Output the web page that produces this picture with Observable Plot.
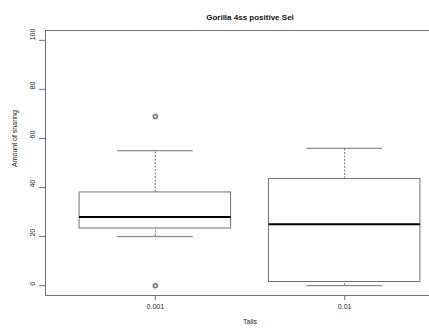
<!DOCTYPE html>
<html>
<head>
<meta charset="utf-8">
<script src="https://cdn.jsdelivr.net/npm/d3@7"></script>
<script src="https://cdn.jsdelivr.net/npm/@observablehq/plot@0.6"></script>
<style>
  html, body { margin: 0; padding: 0; background: #fff; }
  #chart { width: 429px; height: 335px; overflow: hidden; }
  svg { font-family: "Liberation Sans", Arial, Helvetica, sans-serif; }
</style>
</head>
<body>
<div id="chart"></div>
<script>
const title = "Gorilla 4ss positive Sel";
const xLabel = "Tails";
const yLabel = "Amount of sharing";
const categories = ["0.001", "0.01"];
const lowerWhisker = [20, 0];
const q1 = [23.3, 1.5];
const median = [28, 25];
const q3 = [38, 43.5];
const upperWhisker = [55, 56];
const outlierCategory = ["0.001", "0.001"];
const outlierValue = [69, 0];
const yTicks = [0, 20, 40, 60, 80, 100];

const boxes = categories.map((c, i) => ({
  cat: c, pos: i + 1,
  lo: lowerWhisker[i], q1: q1[i], med: median[i], q3: q3[i], hi: upperWhisker[i]
}));
const outliers = outlierValue.map((v, i) => ({
  pos: categories.indexOf(outlierCategory[i]) + 1, value: v
}));

const grey = "#707070";
const chart = Plot.plot({
  width: 429,
  height: 335,
  marginLeft: 45,
  marginRight: -25,
  marginTop: 30,
  marginBottom: 40,
  style: { fontFamily: "Liberation Sans, Arial, sans-serif", fontSize: "7px", background: "white", overflow: "hidden" },
  x: { domain: [0.42, 2.58], axis: null },
  y: { domain: [-4, 104], axis: null },
  marks: [
    // frame: top, left, bottom
    Plot.frame({ anchor: "top", stroke: grey }),
    Plot.frame({ anchor: "left", stroke: grey }),
    Plot.frame({ anchor: "bottom", stroke: grey }),
    // y axis ticks
    Plot.axisY({ ticks: yTicks, tickSize: 6, tickFormat: () => "", stroke: grey, label: null }),
    Plot.text(yTicks, { y: d => d, text: d => String(d), frameAnchor: "left", dx: -13, rotate: -90, fontSize: 7, fill: "#222" }),
    // x axis ticks
    Plot.axisX({ ticks: [1, 2], tickSize: 5, tickFormat: () => "", stroke: grey, label: null }),
    Plot.text(boxes, { x: "pos", text: "cat", frameAnchor: "bottom", dy: 13, fontSize: 7, fill: "#222" }),
    // titles
    Plot.text([xLabel], { text: d => d, frameAnchor: "bottom", dy: 28, fontSize: 7, fill: "#222" }),
    Plot.text([yLabel], { text: d => d, frameAnchor: "left", dx: -31, dy: 4, rotate: -90, fontSize: 7, fill: "#222" }),
    Plot.text([title], { text: d => d, frameAnchor: "top", dy: -16, fontSize: 8, fontWeight: "bold", fill: "#111" }),
    // whiskers
    Plot.ruleX(boxes, { x: "pos", y1: "q3", y2: "hi", stroke: grey, strokeDasharray: "2,1.5" }),
    Plot.ruleX(boxes, { x: "pos", y1: "lo", y2: "q1", stroke: grey, strokeDasharray: "2,1.5" }),
    Plot.ruleY(boxes, { y: "hi", x1: d => d.pos - 0.2, x2: d => d.pos + 0.2, stroke: grey }),
    Plot.ruleY(boxes, { y: "lo", x1: d => d.pos - 0.2, x2: d => d.pos + 0.2, stroke: grey }),
    // boxes
    Plot.rect(boxes, { x1: d => d.pos - 0.4, x2: d => d.pos + 0.4, y1: "q1", y2: "q3", fill: "white", stroke: grey }),
    Plot.ruleY(boxes, { y: "med", x1: d => d.pos - 0.4, x2: d => d.pos + 0.4, stroke: "#000", strokeWidth: 2 }),
    // outliers
    Plot.dot(outliers, { x: "pos", y: "value", r: 2, stroke: grey, fill: "none" })
  ]
});
document.getElementById("chart").appendChild(chart);
</script>
</body>
</html>
